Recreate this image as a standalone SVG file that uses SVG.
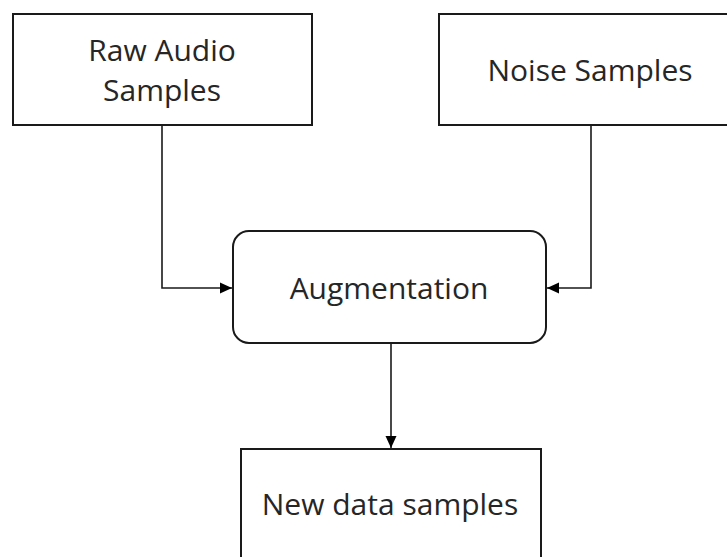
<svg xmlns="http://www.w3.org/2000/svg" width="727" height="557" viewBox="0 0 727 557">
<style>
.box{fill:#fff;stroke:#1a1a1a;stroke-width:2}
.lbl{font-family:"Open Sans","Liberation Sans",sans-serif;font-size:30px;fill:#262626;text-anchor:middle}
.con{fill:none;stroke:#1a1a1a;stroke-width:1.6}
</style>
<defs>
<marker id="ah" markerWidth="13" markerHeight="12" refX="12" refY="6" orient="auto" markerUnits="userSpaceOnUse">
<path d="M0,0.5 L12,6 L0,11.5 Z" fill="#000"/>
</marker>
</defs>
<rect width="727" height="557" fill="#fff"/>
<g id="connectors">
<path class="con" d="M162,125 V288 H232" marker-end="url(#ah)"/>
<path class="con" d="M591,125 V288 H547" marker-end="url(#ah)"/>
<path class="con" d="M391,343 V448" marker-end="url(#ah)"/>
</g>
<g id="raw">
<rect class="box" x="13" y="14" width="299" height="111"/>
<text class="lbl" x="162" y="61">Raw Audio</text>
<text class="lbl" x="162" y="101">Samples</text>
</g>
<g id="noise">
<rect class="box" x="439" y="14" width="304" height="111"/>
<text class="lbl" x="590" y="81">Noise Samples</text>
</g>
<g id="aug">
<rect class="box" x="233" y="231" width="313" height="112" rx="16" ry="16"/>
<text class="lbl" x="389" y="299">Augmentation</text>
</g>
<g id="new">
<rect class="box" x="241" y="449" width="300" height="120"/>
<text class="lbl" x="390" y="515">New data samples</text>
</g>
</svg>
